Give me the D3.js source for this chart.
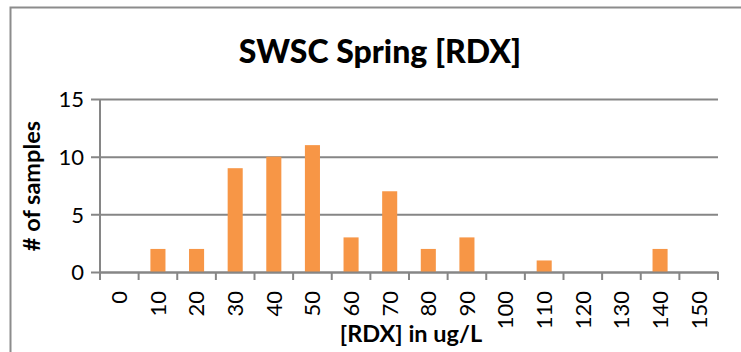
<!DOCTYPE html>
<html>
<head>
<meta charset="utf-8">
<script src="https://cdn.jsdelivr.net/npm/d3@7"></script>
<style>
  html, body { margin: 0; padding: 0; background: #fff; }
  svg { display: block; }
  text { font-family: Lato, "Open Sans", sans-serif; fill: #000; }
</style>
</head>
<body>
<svg id="chart" width="741" height="352"></svg>
<script>
// RDX concentration bins (ug/L) and sample counts per bin
const bins = ["0", "10", "20", "30", "40", "50", "60", "70", "80", "90", "100", "110", "120", "130", "140", "150"];
const counts = [0, 2, 2, 9, 10, 11, 3, 7, 2, 3, 0, 1, 0, 0, 2, 0];
const yTicks = [0, 5, 10, 15];

const title = "SWSC Spring [RDX]";
const xTitle = "[RDX] in ug/L";
const yTitle = "# of samples";

const svg = d3.select("#chart");
const plot = { left: 100, right: 718, top: 99, bottom: 272 };
const gridColor = "#868686";
const barColor = "#F79646";

// Outer chart frame
svg.append("rect")
  .attr("x", 10.5).attr("y", 7.5)
  .attr("width", 760).attr("height", 400)
  .attr("fill", "none").attr("stroke", "#8c8c8c").attr("stroke-width", 2);

const x = d3.scaleBand()
  .domain(bins)
  .range([plot.left, plot.right])
  .paddingInner(0.61)
  .paddingOuter(0.305);

const y = d3.scaleLinear()
  .domain([0, 15])
  .range([plot.bottom, plot.top]);

// Horizontal gridlines with outward ticks on the value axis
const yAxis = d3.axisLeft(y)
  .tickValues(yTicks)
  .tickSize(-(plot.right - plot.left))
  .tickSizeOuter(0)
  .tickPadding(16);

const gy = svg.append("g")
  .attr("transform", `translate(${plot.left},0)`)
  .call(yAxis);
gy.select(".domain").remove();
gy.selectAll(".tick line")
  .attr("x1", -9)
  .attr("stroke", gridColor)
  .attr("stroke-width", 2);
gy.selectAll(".tick text")
  .attr("font-size", 22)
  .attr("dy", "0.36em")
  .style("font-family", "Lato, 'Open Sans', sans-serif");

// Vertical value-axis line
svg.append("line")
  .attr("x1", plot.left).attr("x2", plot.left)
  .attr("y1", plot.top).attr("y2", plot.bottom + 8)
  .attr("stroke", gridColor).attr("stroke-width", 2);

// Bars
svg.append("g").selectAll("rect")
  .data(bins.map((b, i) => ({ bin: b, value: counts[i] })))
  .join("rect")
  .attr("x", d => x(d.bin))
  .attr("width", x.bandwidth())
  .attr("y", d => y(d.value))
  .attr("height", d => y(0) - y(d.value))
  .attr("fill", barColor);

// Category axis: boundary ticks between bins and rotated labels
const step = x.step();
const x0 = x(bins[0]) - x.paddingOuter() * step;
const boundaries = d3.range(bins.length + 1).map(i => x0 + i * step);

svg.append("g").selectAll("line")
  .data(boundaries)
  .join("line")
  .attr("x1", d => d).attr("x2", d => d)
  .attr("y1", plot.bottom).attr("y2", plot.bottom + 8)
  .attr("stroke", gridColor).attr("stroke-width", 2);

const xAxis = d3.axisBottom(x).tickSize(0).tickSizeOuter(0);
const gx = svg.append("g")
  .attr("transform", `translate(0,${plot.bottom})`)
  .call(xAxis);
gx.select(".domain")
  .attr("stroke", gridColor).attr("stroke-width", 2);
gx.selectAll(".tick text")
  .attr("font-size", 22)
  .attr("transform", "rotate(-90)")
  .attr("text-anchor", "end")
  .attr("x", -19)
  .attr("y", 0)
  .attr("dy", "0.36em")
  .style("font-family", "Lato, 'Open Sans', sans-serif");

// Titles
svg.append("text")
  .attr("x", 380).attr("y", 63)
  .attr("text-anchor", "middle")
  .attr("font-size", 32)
  .attr("font-weight", 900)
  .text(title);

svg.append("text")
  .attr("x", 411).attr("y", 342)
  .attr("text-anchor", "middle")
  .attr("font-size", 23.5)
  .attr("font-weight", "bold")
  .text(xTitle);

svg.append("text")
  .attr("transform", `translate(40,186) rotate(-90)`)
  .attr("text-anchor", "middle")
  .attr("font-size", 23.5)
  .attr("font-weight", "bold")
  .text(yTitle);
</script>
</body>
</html>
